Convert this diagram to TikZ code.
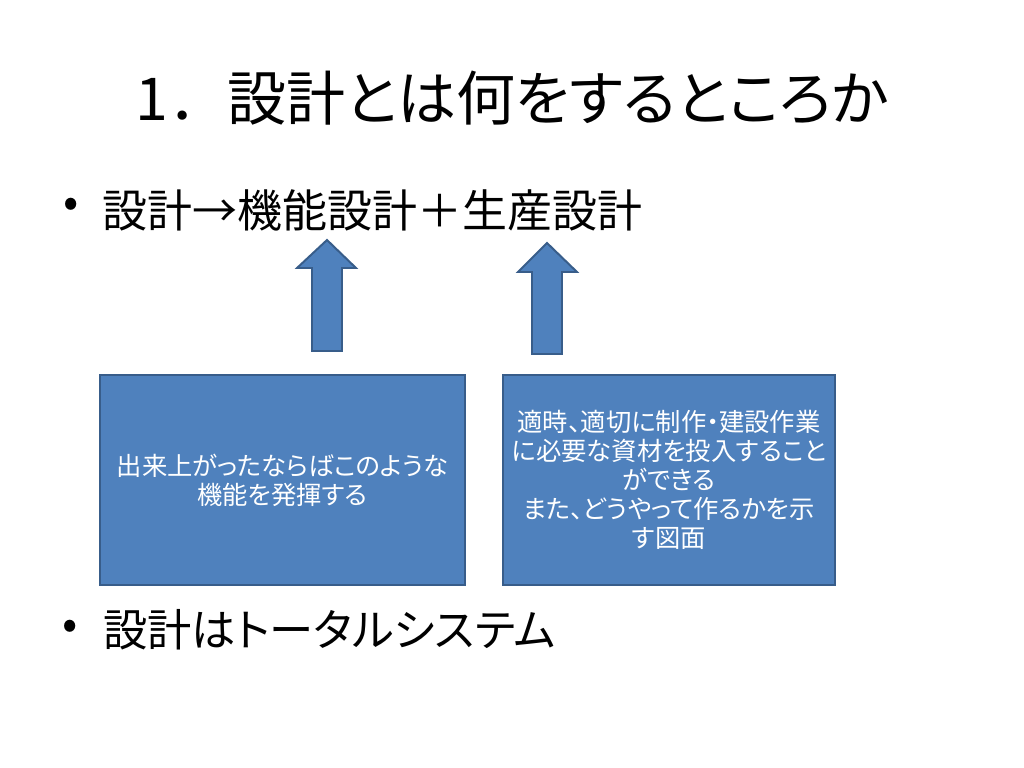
\documentclass[tikz,border=0pt]{standalone}
\usepackage{fontspec}
\setmainfont{Noto Sans CJK JP}
\newfontfamily\jpprop[RawFeature=+palt]{Noto Sans CJK JP}
\definecolor{boxblue}{HTML}{4F81BD}
\definecolor{boxedge}{HTML}{385D8A}

\begin{document}
\begin{tikzpicture}[x=0.025cm,y=-0.025cm,
  infobox/.style={draw=boxedge,line width=1.4pt,fill=boxblue,text=white,align=center,
    font=\jpprop\fontsize{18}{20.6}\selectfont,inner sep=0pt,minimum height=5.25cm},
  upblock/.style={draw=boxedge,line width=1.4pt,fill=boxblue,line join=miter},
  dot/.style={font=\fontsize{32}{38}\selectfont,inner sep=0pt},
  itemtext/.style={anchor=west,inner sep=0pt,font=\fontsize{32}{40}\selectfont}]
\fill[white] (0,0) rectangle (1024,768);
\useasboundingbox (0,0) rectangle (1024,768);

% title
\node[font=\fontsize{42}{50}\selectfont] (title) at (512,98) {1．{\jpprop 設計とは何をするところか}};

% first point
\node[dot] (dot1) at (71,208) {•};
\node[itemtext] (item1) at (102,210) {設計→機能設計＋生産設計};

% the two boxes
\node[infobox,minimum width=9.125cm] (func) at (282.5,480) {出来上がったならばこのような\\機能を発揮する};
\node[infobox,minimum width=8.3cm] (prod) at (669,480) {適時、適切に制作・建設作業\\に必要な資材を投入すること\\ができる\\また、どうやって作るかを示\\す図面};

% block arrows
\draw[upblock] (312,351) -- (312,268) -- (297,268) -- (327,240) -- (356,268) -- (342,268) -- (342,351) -- cycle;
\draw[upblock] (532,354) -- (532,272) -- (518,272) -- (547,243) -- (577,272) -- (562,272) -- (562,354) -- cycle;

% second point
\node[dot] (dot2) at (70,630) {•};
\node[itemtext,font=\jpprop\fontsize{31.5}{40}\selectfont] (item2) at (103,630) {設計はトータルシステム};
\end{tikzpicture}
\end{document}
